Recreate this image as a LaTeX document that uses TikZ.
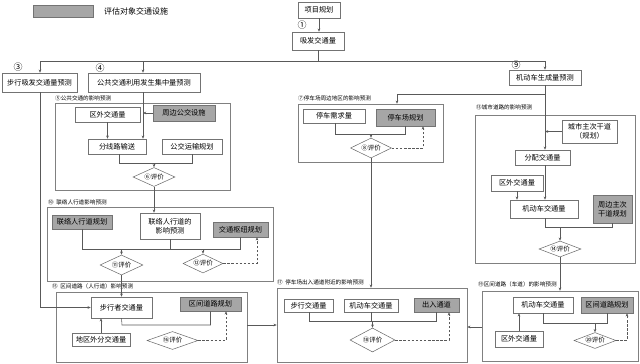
\documentclass[tikz,border=0pt]{standalone}
\usepackage{fontspec}
\newfontfamily\cjk{Noto Sans CJK SC}
\usetikzlibrary{arrows.meta,shapes.geometric}
\begin{document}
\begin{tikzpicture}[x=1pt,y=-1pt,
  ln/.style={draw=black!65, line width=0.55pt},
  ar/.style={ln,-{Stealth[length=3.2pt,width=2.6pt]}},
  da/.style={ar, dash pattern=on 2.5pt off 1.6pt},
  bx/.style={draw=black!55, line width=0.5pt, fill=white, inner sep=0pt, font=\cjk\fontsize{7.2}{8.6}\selectfont, align=center},
  gb/.style={bx, fill=black!35},
  grp/.style={draw=black!50, line width=0.5pt, inner sep=0pt},
  gl/.style={font=\cjk\fontsize{5.6}{6}\selectfont, anchor=west, inner sep=0pt},
  num/.style={font=\cjk\fontsize{9}{10}\selectfont, inner sep=0pt},
  dm/.style={draw=black!60, line width=0.5pt, diamond, aspect=2.4, inner sep=0pt, fill=white, font=\cjk\fontsize{6.5}{7}\selectfont}
]
\fill[white] (0,0) rectangle (640,364);
\useasboundingbox (0,0) rectangle (640,364);

% legend
\node[gb, minimum width=60, minimum height=12] (lgb) at (63,11) {};
\node[font=\cjk\fontsize{8}{9}\selectfont, anchor=west, inner sep=0pt] (lgt) at (104,11) {评估对象交通设施};

% top
\node[bx, minimum width=42, minimum height=16] (xm) at (319,10) {项目规划};
\node[bx, minimum width=52, minimum height=18] (xf) at (318,41) {吸发交通量};
\draw[ar] (xm.south) -- (xm.south |- xf.north);
\node[num] (n1) at (302,25) {①};

% level 2
\node[bx, minimum width=75, minimum height=19] (bx1) at (39.5,82.5) {步行吸发交通量预测};
\node[num] (n3) at (18,67) {③};
\node[bx, minimum width=112, minimum height=19] (gj) at (144,82.5) {公共交通利用发生集中量预测};
\node[num] (n4) at (100,68) {④};
\node[bx, minimum width=72, minimum height=15] (jd) at (545,77.5) {机动车生成量预测};
\node[num] (n9) at (516,65) {⑨};
\coordinate (sp) at (318,61);
\coordinate (sL) at (40,61);
\coordinate (sM) at (143,61);
\coordinate (sR) at (545,61);
\draw[ln] (xf.south) -- (sp);
\draw[ln] (sL) -- (sR);
\draw[ar] (sL) -- (sL |- bx1.north);
\draw[ar] (sM) -- (sM |- gj.north);
\draw[ar] (sR) -- (jd.north);

% group 5: public transport
\node[grp, minimum width=175, minimum height=87] (g5) at (142.5,146.5) {};
\node[gl] (g5l) at (55,98) {⑤公共交通的影响预测};
\node[bx, minimum width=65, minimum height=15] (qw1) at (107.5,114.5) {区外交通量};
\node[gb, minimum width=62, minimum height=16] (zb) at (184,113) {周边公交设施};
\node[bx, minimum width=58, minimum height=15] (fx) at (117,146.5) {分线路输送};
\node[bx, minimum width=60, minimum height=15] (gy) at (192,146.5) {公交运输规划};
\node[dm, minimum width=42, minimum height=19] (d6) at (154,177) {⑥评价};
\draw[ar] (sM |- gj.south) -- (sM |- fx.north);
\draw[ar] (zb.west) -- (zb.west -| sM);
\draw[ar] (qw1.south) -- (qw1.south |- fx.north);
\coordinate (j5a) at (119,163);
\coordinate (j5b) at (192,163);
\coordinate (j5c) at (154,163);
\draw[ln] (fx.south -| j5a) -- (j5a) -- (j5b) -- (gy.south);
\draw[ar] (j5c) -- (d6.north);

% group 10: connecting sidewalk
\node[grp, minimum width=226, minimum height=74] (g10) at (160,244) {};
\node[gl] (g10l) at (48,202) {⑩ \ 联络人行道影响预测};
\node[gb, minimum width=60, minimum height=14] (lg1) at (82,222) {联络人行道规划};
\node[bx, minimum width=60, minimum height=26] (ll) at (170,226) {联络人行道的\\影响预测};
\node[gb, minimum width=55, minimum height=15] (jt) at (240.5,229.5) {交通枢纽规划};
\node[dm, minimum width=43, minimum height=20] (d11) at (121.5,265) {⑪评价};
\node[dm, minimum width=40, minimum height=19] (d12) at (203,263.5) {⑫评价};
\draw[ar] (d6.south) -- (d6.south |- ll.north);
\coordinate (j10a) at (82,249);
\coordinate (j10b) at (240.5,249);
\draw[ln] (lg1.south) -- (j10a) -- (j10b) -- (jt.south);
\draw[ln] (ll.south) -- (ll.south |- j10a);
\draw[ar] (d11.north |- j10a) -- (d11.north);
\draw[ar] (d12.north |- j10a) -- (d12.north);
\coordinate (k12) at (257,263.5);
\draw[da] (d12.east) -- (k12) -- (k12 |- jt.south);

% group 15: district road (sidewalk)
\node[grp, minimum width=191, minimum height=70] (g15) at (151.5,327) {};
\node[gl] (g15l) at (52,286) {⑮ \ 区间道路（人行道）影响预测};
\node[bx, minimum width=61, minimum height=21] (bxz) at (121.5,307.5) {步行者交通量};
\node[gb, minimum width=61, minimum height=14] (qd1) at (210.5,304) {区间道路规划};
\node[bx, minimum width=58, minimum height=13] (dq) at (101,339.5) {地区外分交通量};
\node[dm, minimum width=51, minimum height=18] (d16) at (172.5,340.5) {⑯评价};
\draw[ar] (d11.south) -- (bxz.north);
\coordinate (kL) at (40,307.5);
\draw[ar] (bx1.south -| kL) -- (kL) -- (bxz.west);
\draw[ar] (dq.north) -- (dq.north |- bxz.south);
\coordinate (j15a) at (122,325);
\coordinate (j15b) at (210.5,325);
\draw[ln] (bxz.south) -- (j15a) -- (j15b) -- (qd1.south);
\coordinate (k16) at (226,340.5);
\draw[da] (d16.east) -- (k16) -- (k16 |- qd1.south);

% group 7: parking surroundings
\node[grp, minimum width=145, minimum height=58] (g7) at (370.5,133) {};
\node[gl] (g7l) at (298,98) {⑦停车场周边地区的影响预测};
\node[bx, minimum width=62, minimum height=14] (tx) at (334,116) {停车需求量};
\node[gb, minimum width=59, minimum height=17] (tg) at (405.5,117.5) {停车场规划};
\node[dm, minimum width=41, minimum height=20] (d8) at (371,148) {⑧评价};
\coordinate (pb) at (545,94);
\coordinate (pc) at (397,94);
\draw[ar] (pb) -- (pc) -- (pc |- g7.north);
\coordinate (j7a) at (335,134);
\coordinate (j7b) at (405.5,134);
\draw[ln] (tx.south -| j7a) -- (j7a) -- (j7b) -- (tg.south);
\draw[ar] (d8.north |- j7a) -- (d8.north);
\coordinate (k8) at (423,148);
\draw[da] (d8.east) -- (k8) -- (k8 |- tg.south);

% group 17: parking entrance
\node[grp, minimum width=190, minimum height=74] (g17) at (372,325) {};
\node[gl] (g17l) at (277,282) {⑰ \ 停车场出入通道附近的影响预测};
\node[bx, minimum width=49, minimum height=13] (bj) at (308.5,305.5) {步行交通量};
\node[bx, minimum width=54, minimum height=13] (jj2) at (371,305.5) {机动车交通量};
\node[gb, minimum width=45, minimum height=14] (cr) at (436.5,305) {出入通道};
\node[dm, minimum width=45, minimum height=24] (d18) at (372.5,340) {⑱评价};
\draw[ar] (d8.south) -- (d8.south |- g17.north);
\coordinate (j17a) at (309,321);
\coordinate (j17b) at (436.5,321);
\draw[ln] (bj.south -| j17a) -- (j17a) -- (j17b) -- (cr.south);
\draw[ln] (jj2.south) -- (jj2.south |- j17a);
\draw[ar] (d18.north |- j17a) -- (d18.north);
\coordinate (k18) at (449,340);
\draw[da] (d18.east) -- (k18) -- (k18 |- cr.south);
\coordinate (kM) at (247,325);
\draw[ar] (kM) -- (kM -| g17.west);

% group 13: urban roads
\node[grp, minimum width=160, minimum height=148] (g13) at (555,189) {};
\node[gl] (g13l) at (476,107) {⑬城市道路的影响预测};
\node[bx, minimum width=55, minimum height=23] (cs) at (589.5,131.5) {城市主次干道\\（规划）};
\node[bx, minimum width=55, minimum height=15] (fp) at (542.5,157.5) {分配交通量};
\node[bx, minimum width=52, minimum height=16] (qw3) at (517,183) {区外交通量};
\node[bx, minimum width=68, minimum height=18] (jj1) at (544,209) {机动车交通量};
\node[gb, minimum width=39, minimum height=28] (zz) at (612.5,209) {周边主次\\干道规划};
\node[dm, minimum width=42, minimum height=16] (d14) at (560,249) {⑭评价};
\draw[ar] (jd.south) -- (jd.south |- fp.north);
\draw[ar] (cs.west) -- (cs.west -| jd.south);
\draw[ar] (jd.south |- fp.south) -- (jd.south |- jj1.north);
\draw[ar] (qw3.south) -- (qw3.south |- jj1.north);
\coordinate (j13a) at (545,227);
\coordinate (j13b) at (612.5,227);
\draw[ln] (jj1.south -| j13a) -- (j13a) -- (j13b) -- (zz.south);
\draw[ar] (d14.north |- j13a) -- (d14.north);

% group 19: district road (carriageway)
\node[grp, minimum width=156, minimum height=70] (g19) at (560,326) {};
\node[gl] (g19l) at (478,284) {⑲区间道路（车道）的影响预测};
\node[bx, minimum width=60, minimum height=16] (jj3) at (543,305) {机动车交通量};
\node[gb, minimum width=52, minimum height=16] (qd3) at (607,305) {区间道路规划};
\node[bx, minimum width=48, minimum height=16] (qw4) at (519,339) {区外交通量};
\node[dm, minimum width=42, minimum height=16] (d20) at (595,340.5) {⑳评价};
\draw[ar] (d14.south) -- (d14.south |- g19.north);
\draw[ar] (qw4.north) -- (qw4.north |- jj3.south);
\coordinate (j19a) at (543,323);
\coordinate (j19b) at (607,323);
\draw[ln] (jj3.south) -- (j19a) -- (j19b) -- (qd3.south);
\draw[ar] (d20.north |- j19a) -- (d20.north);
\coordinate (k20) at (627,340.5);
\draw[da] (d20.east) -- (k20) -- (k20 |- qd3.south);
\coordinate (kR) at (482,327);
\draw[ar] (kR) -- (kR -| g17.east);
\end{tikzpicture}
\end{document}
